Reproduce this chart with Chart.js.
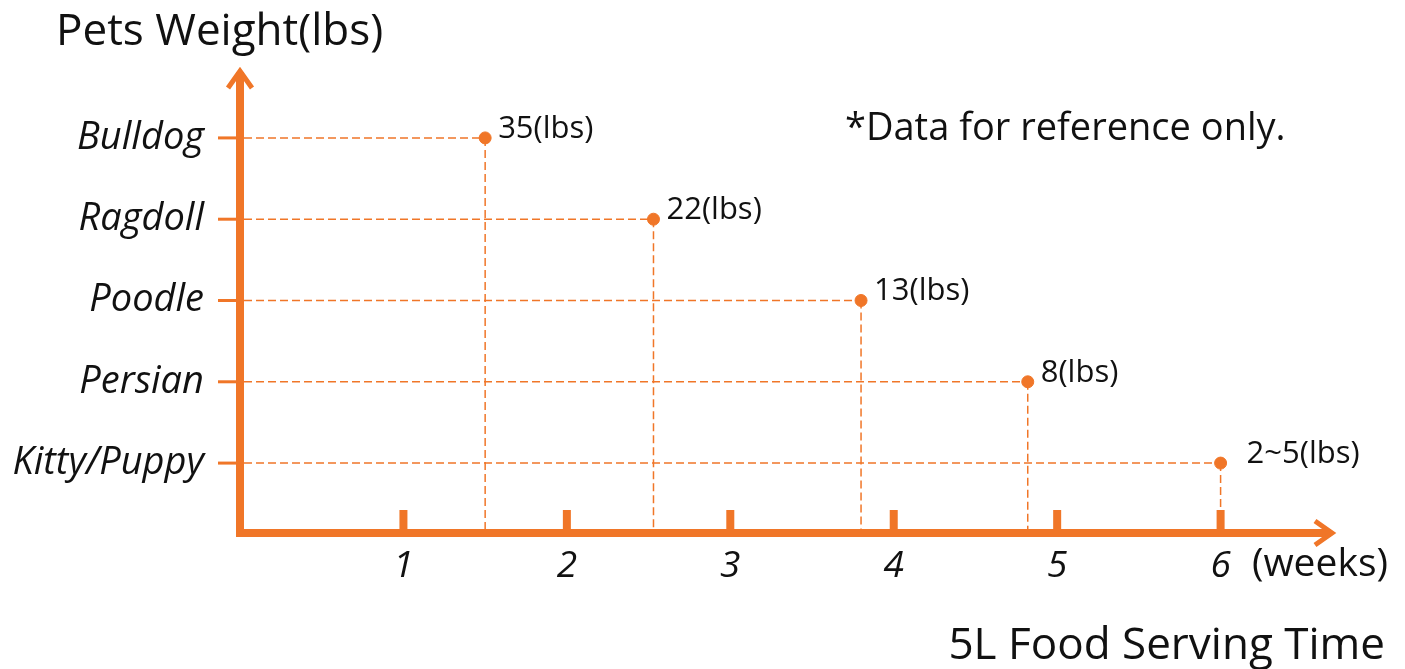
<!DOCTYPE html>
<html>
<head>
<meta charset="utf-8">
<script src="https://cdn.jsdelivr.net/npm/chart.js@4"></script>
<style>
  html, body { margin: 0; padding: 0; background: #fff; }
  #wrap { width: 1405px; height: 669px; position: relative; }
</style>
</head>
<body>
<div id="wrap"><canvas id="petChart"></canvas></div>
<script>
// pets from bottom to top of the y axis
const pets = ['Kitty/Puppy', 'Persian', 'Poodle', 'Ragdoll', 'Bulldog'];
const servingWeeks = [6.0, 4.82, 3.8, 2.53, 1.5];
const weightLabels = ['2~5(lbs)', '8(lbs)', '13(lbs)', '22(lbs)', '35(lbs)'];
const weekTicks = [1, 2, 3, 4, 5, 6];

const orange = '#f07628';
const FONT = '"Open Sans", sans-serif';

document.addEventListener('DOMContentLoaded', function () {
    const ctx = document.getElementById('petChart').getContext('2d');

    const points = pets.map((p, i) => ({ x: servingWeeks[i], y: i + 1 }));

    const guidePlugin = {
        id: 'guides',
        beforeDatasetsDraw(chart) {
            const { ctx, chartArea, scales } = chart;
            const xs = scales.x, ys = scales.y;
            ctx.save();
            ctx.strokeStyle = orange;
            ctx.lineWidth = 1.5;
            ctx.setLineDash([8, 4]);
            points.forEach(pt => {
                const px = xs.getPixelForValue(pt.x);
                const py = ys.getPixelForValue(pt.y);
                ctx.beginPath();
                ctx.moveTo(chartArea.left + 4, py);
                ctx.lineTo(px, py);
                ctx.moveTo(px, py);
                ctx.lineTo(px, chartArea.bottom - 4);
                ctx.stroke();
            });
            ctx.setLineDash([]);

            // y tick marks
            ctx.lineWidth = 3;
            pets.forEach((p, i) => {
                const py = ys.getPixelForValue(i + 1);
                ctx.beginPath();
                ctx.moveTo(chartArea.left - 22, py);
                ctx.lineTo(chartArea.left, py);
                ctx.stroke();
            });

            // x tick marks sit above the axis
            ctx.fillStyle = orange;
            weekTicks.forEach(w => {
                const px = xs.getPixelForValue(w);
                ctx.fillRect(px - 4, chartArea.bottom - 23, 8, 23);
            });

            // axes with arrows
            ctx.lineWidth = 8;
            ctx.lineCap = 'butt';
            ctx.beginPath();
            ctx.moveTo(chartArea.left, chartArea.bottom + 4);
            ctx.lineTo(chartArea.left, chartArea.top + 4);
            ctx.moveTo(chartArea.left - 4, chartArea.bottom);
            ctx.lineTo(chartArea.right - 4, chartArea.bottom);
            ctx.stroke();

            ctx.lineWidth = 5;
            ctx.lineJoin = 'miter';
            ctx.beginPath();
            ctx.moveTo(chartArea.left - 12, chartArea.top + 20);
            ctx.lineTo(chartArea.left, chartArea.top + 3);
            ctx.lineTo(chartArea.left + 12, chartArea.top + 20);
            ctx.moveTo(chartArea.right - 20, chartArea.bottom - 12);
            ctx.lineTo(chartArea.right - 3, chartArea.bottom);
            ctx.lineTo(chartArea.right - 20, chartArea.bottom + 12);
            ctx.stroke();
            ctx.restore();
        },
        afterDatasetsDraw(chart) {
            const { ctx, scales } = chart;
            ctx.save();
            ctx.fillStyle = '#111';
            ctx.textBaseline = 'middle';
            ctx.textAlign = 'left';
            ctx.font = '31px ' + FONT;
            points.forEach((pt, i) => {
                const px = scales.x.getPixelForValue(pt.x);
                const py = scales.y.getPixelForValue(pt.y);
                const dx = i === 0 ? 26 : 13;
                ctx.fillText(weightLabels[i], px + dx, py - 9);
            });

            ctx.font = '44px ' + FONT;
            ctx.fillText('Pets Weight(lbs)', 56, 32);
            ctx.font = '38px ' + FONT;
            ctx.fillText('*Data for reference only.', 845, 129);
            ctx.textAlign = 'right';
            ctx.font = '39px ' + FONT;
            ctx.fillText('(weeks)', 1388, 565);
            ctx.font = '44px ' + FONT;
            ctx.fillText('5L Food Serving Time', 1385, 646);
            ctx.restore();
        }
    };

    new Chart(ctx, {
        type: 'scatter',
        data: {
            datasets: [{
                label: 'Pets',
                data: points,
                backgroundColor: orange,
                borderColor: orange,
                pointRadius: 6,
                pointHoverRadius: 6
            }]
        },
        options: {
            responsive: true,
            maintainAspectRatio: false,
            animation: false,
            layout: { padding: { top: 68, right: 70, left: 0, bottom: 0 } },
            scales: {
                x: {
                    type: 'linear',
                    min: 0,
                    max: 6.7,
                    grid: { display: false, drawTicks: false },
                    border: { display: false },
                    afterFit(scale) { scale.height = 136; },
                    afterBuildTicks(scale) { scale.ticks = weekTicks.map(v => ({ value: v })); },
                    ticks: {
                        padding: 11,
                        color: '#111',
                        font: { family: FONT, size: 37, style: 'italic' },
                        callback: v => String(v)
                    }
                },
                y: {
                    type: 'linear',
                    min: 0.14,
                    max: 5.86,
                    grid: { display: false, drawTicks: false },
                    border: { display: false },
                    afterFit(scale) { scale.width = 240; },
                    afterBuildTicks(scale) { scale.ticks = pets.map((p, i) => ({ value: i + 1 })); },
                    ticks: {
                        padding: 36,
                        color: '#111',
                        font: { family: FONT, size: 38, style: 'italic' },
                        callback: v => pets[Math.round(v) - 1]
                    }
                }
            },
            plugins: {
                legend: { display: false },
                tooltip: { enabled: false }
            }
        },
        plugins: [guidePlugin]
    });
});
</script>
</body>
</html>
